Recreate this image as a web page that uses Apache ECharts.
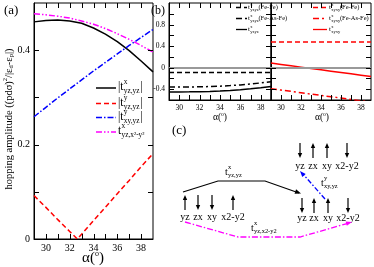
<!DOCTYPE html>
<html><head><meta charset="utf-8">
<script src="https://cdn.jsdelivr.net/npm/echarts@6/dist/echarts.min.js"></script>
<style>html,body{margin:0;padding:0;background:#fff}#c{width:374px;height:267px}</style>
</head><body><div id="c"></div>
<script>
// ---- data ----
const alpha = [29,30,31,32,33,34,35,36,37,38,39];
const aTxYzYz = [0.460,0.463,0.464,0.462,0.457,0.447,0.434,0.418,0.399,0.377,0.354];
const aRedAlpha = [29,30,31,32,32.64,33,34,35,36,37,38,39];
const aTyYzYz = [0.092,0.067,0.041,0.016,0,0.010,0.039,0.067,0.096,0.124,0.153,0.181];
const aTyXyYz = [0.259,0.279,0.299,0.318,0.337,0.356,0.374,0.392,0.410,0.427,0.444];
const aTxYzX2 = [0.477,0.475,0.472,0.468,0.462,0.455,0.446,0.435,0.423,0.410,0.396];
const bYzFeFe = [-0.09,-0.09,-0.09,-0.09,-0.09,-0.09,-0.09,-0.09,-0.09,-0.09,-0.09];
const bYzFeAsFe = [-0.36,-0.36,-0.358,-0.355,-0.35,-0.343,-0.333,-0.32,-0.303,-0.283,-0.26];
const bYzTot = [-0.45,-0.45,-0.448,-0.445,-0.44,-0.433,-0.423,-0.41,-0.393,-0.373,-0.35];
const bXyFeFe = [0.475,0.475,0.475,0.475,0.475,0.475,0.475,0.475,0.475,0.475,0.475];
const bXyFeAsFe = [-0.39,-0.415,-0.44,-0.465,-0.49,-0.515,-0.54,-0.565,-0.59,-0.615,-0.64];
const bXyTot = [0.085,0.06,0.035,0.01,-0.015,-0.04,-0.065,-0.09,-0.115,-0.14,-0.165];
const xTickVals = [30,31,32,33,34,35,36,37,38];
const xTicksLabeled = [30,32,34,36,38];
const aYTickVals = [0.1,0.2,0.3,0.4];
const aYLabeled = [0,0.2,0.4];
const bYTickVals = [-0.4,-0.2,0,0.2,0.4,0.6,0.8,1.0];
const bYLabeled = [-0.4,0,0.4,0.8];

const FF = '"Liberation Serif","DejaVu Serif",serif';
const cv = document.createElement('canvas').getContext('2d');
function mw(s, fs){cv.font = fs+'px "Liberation Serif"'; return cv.measureText(s).width;}
function near(v, arr){return arr.some(a=>Math.abs(a-v)<1e-6);}
function pair(xs, ys){return xs.map((x,i)=>[x,ys[i]]);}

const frame = {show:true, borderColor:'#000', borderWidth:1, backgroundColor:'transparent'};
const grids = [
  Object.assign({left:34, top:3, width:119, height:236}, frame),
  Object.assign({left:169, top:3, width:102, height:97}, frame),
  Object.assign({left:271, top:3, width:102, height:97}, frame)
];
const xAxes = [], yAxes = [];
function addAxes(gi, fs, ymin, ymax, yint, ylab, showY){
  const line = () => ({show:true, onZero:false, lineStyle:{color:'#000', width:1}});
  xAxes.push({type:'value', gridIndex:gi, min:29, max:39, interval:1, position:'bottom',
    axisLine:line(), axisTick:{show:false}, splitLine:{show:false},
    axisLabel:{margin:4, fontFamily:FF, fontSize:fs, color:'#000', formatter:v=>near(v,xTicksLabeled)?String(v):''}});
  yAxes.push({type:'value', gridIndex:gi, min:ymin, max:ymax, interval:yint, position:'left',
    axisLine:line(), axisTick:{show:false}, splitLine:{show:false},
    axisLabel:{show:showY, margin:4, fontFamily:FF, fontSize:fs, color:'#000',
      formatter:v=>near(v,ylab)?String(Math.round(v*10)/10):''}});
}
addAxes(0, 10, 0, 0.5, 0.1, aYLabeled, true);
addAxes(1, 7.5, -0.6, 1.2, 0.2, bYLabeled, true);
addAxes(2, 7.5, -0.6, 1.2, 0.2, bYLabeled, false);

function ser(gi, xs, ys, color, dash, w){
  return {type:'line', xAxisIndex:gi, yAxisIndex:gi, data:pair(xs,ys), symbol:'none',
    smooth:false, clip:true, lineStyle:{color:color, width:w||1.5, type:dash||'solid'}, z:3};
}
const zeroLine = {silent:true, symbol:['none','none'], label:{show:false},
  lineStyle:{color:'#999', width:2, type:'solid'}, data:[{yAxis:0}]};
const series = [
  ser(0, alpha, aTxYzYz, '#000', 'solid', 1.5),
  ser(0, aRedAlpha, aTyYzYz, '#ff0000', [5,3], 1.5),
  ser(0, alpha, aTyXyYz, '#0000ff', [6,2,1.5,2], 1.5),
  ser(0, alpha, aTxYzX2, '#ff00ff', [6,2,1.5,2,1.5,2], 1.5),
  Object.assign(ser(1, alpha, bYzFeFe, '#000', [5,3], 1.5), {markLine:zeroLine}),
  ser(1, alpha, bYzFeAsFe, '#000', [6,3,2,3], 1.5),
  ser(1, alpha, bYzTot, '#000', 'solid', 1.5),
  Object.assign(ser(2, alpha, bXyFeFe, '#ff0000', [5,3], 1.5), {markLine:zeroLine}),
  ser(2, alpha, bXyFeAsFe, '#ff0000', [6,3,2,3], 1.5),
  ser(2, alpha, bXyTot, '#ff0000', 'solid', 1.5)
];

// ---- graphic helpers ----
const G = [];
function txt(x, y, s, fs, opt){
  opt = opt||{};
  G.push({type:'text', x:x, y:y, rotation:opt.rot||0, z:10,
    style:{text:s, fontSize:fs, fontFamily:FF, fill:opt.color||'#000',
      align:opt.align||'left', textAlign:opt.align||'left',
      verticalAlign:'middle', textVerticalAlign:'middle', rich:opt.rich}});
}
function sym(x, y, base, sup, sub, tail, fs){
  txt(x, y, base, fs);
  const w = mw(base, fs);
  const ss = fs*0.64;
  if(sup) txt(x+w+0.3, y-fs*0.42, sup, ss);
  if(sub) txt(x+w+0.3, y+fs*0.38, sub, ss);
  const w2 = Math.max(sup?mw(sup,ss):0, sub?mw(sub,ss):0);
  if(tail) txt(x+w+w2+1, y, tail, fs);
  return x+w+w2+1+(tail?mw(tail,fs):0);
}
function seg(x1,y1,x2,y2,color,dash,w){
  G.push({type:'line', z:10, shape:{x1,y1,x2,y2}, style:{stroke:color, lineWidth:w||1.5, lineDash:dash||null}});
}
function poly(points,color,dash,w){
  G.push({type:'polyline', z:10, shape:{points}, style:{stroke:color, fill:null, lineWidth:w||1.2, lineDash:dash||null}});
}
function head(x1,y1,x2,y2,color,L,W){
  L=L||5; W=W||2.2;
  const dx=x2-x1, dy=y2-y1, d=Math.hypot(dx,dy), ux=dx/d, uy=dy/d;
  const bx=x2-ux*L, by=y2-uy*L;
  G.push({type:'polygon', z:11, shape:{points:[[x2,y2],[bx-uy*W,by+ux*W],[bx+uy*W,by-ux*W]]}, style:{fill:color}});
}
function spin(x, y, up){
  if(up){ seg(x, y+15, x, y+2, '#000', null, 1.2); head(x, y+15, x, y, '#000', 5, 2.2); }
  else { seg(x, y, x, y+13, '#000', null, 1.2); head(x, y, x, y+15, '#000', 5, 2.2); }
}

// panel labels
txt(4, 11, '(a)', 13);
txt(151, 11, '(b)', 12);
txt(172, 131, '(c)', 13);

// axis titles
txt(9, 119, 'hopping amplitude ((pdσ){sp|2}/|ε{sb|d}-ε{sb|p}|)', 10.5, {rot:Math.PI/2, align:'center',
  rich:{sp:{fontSize:6.5, fontFamily:FF, padding:[0,0,7,0]}, sb:{fontSize:6.5, fontFamily:FF, padding:[5,0,0,0]}}});
txt(93, 258, 'α({o|o})', 15, {align:'center', rich:{o:{fontSize:8, fontFamily:FF, padding:[0,0,8,0]}}});
txt(220, 117, 'α({o|o})', 9.5, {align:'center', rich:{o:{fontSize:5.5, fontFamily:FF, padding:[0,0,5,0]}}});
txt(322, 117, 'α({o|o})', 9.5, {align:'center', rich:{o:{fontSize:5.5, fontFamily:FF, padding:[0,0,5,0]}}});

// legend (a)
const la = [
  {y:88, c:'#000', d:null, b:'|t', sp:'x', sb:'yz,yz', t:'|'},
  {y:103.5, c:'#ff0000', d:[5,3], b:'|t', sp:'y', sb:'yz,yz', t:'|'},
  {y:117.5, c:'#0000ff', d:[6,2,1.5,2], b:'|t', sp:'y', sb:'xy,yz', t:'|'},
  {y:132, c:'#ff00ff', d:[6,2,1.5,2,1.5,2], b:'t', sp:'x', sb:'yz,x²-y²', t:''}
];
la.forEach(e=>{ seg(96, e.y, 116, e.y, e.c, e.d, 1.5); sym(118, e.y-1, e.b, e.sp, e.sb, e.t, 11.5); });

// legend (b)
const lb = [
  {y:7.5, d:[5,3], s:'(Fe-Fe)'},
  {y:18.5, d:[6,3,2,3], s:'(Fe-As-Fe)'},
  {y:29.5, d:null, s:''}
];
lb.forEach(e=>{
  seg(236, e.y, 247, e.y, '#000', e.d, 1.3);
  const x2 = sym(248, e.y, 't', 'x', 'yzyz', '', 7);
  if(e.s) txt(x2-1, e.y, e.s, 6.5);
  seg(313, e.y, 327, e.y, '#ff0000', e.d, 1.3);
  const x3 = sym(329, e.y, 't', 'x', 'xyxy', '', 7);
  if(e.s) txt(x3-1, e.y, e.s, 6.5);
});

// panel (c)
const orb = ['yz','zx','xy','x2-y2'];
function group(xs, yArrow, yLab, ups){
  xs.forEach((x,i)=>{ spin(x, yArrow, ups[i]); txt(x, yLab, orb[i], 10, {align:'center'}); });
}
group([300,313,327,347], 143, 166, [false,true,true,false]);
group([185,198,212,233], 195, 217, [true,false,false,true]);
group([302,314,328,348], 198, 218, [false,true,true,false]);

poly([[183,192],[218,181],[265,181],[299,193]], '#000', null, 1.2);
head(265,181,301,193.5,'#000',6,2.3);
sym(225, 172, 't', 'x', 'yz,yz', '', 10);

poly([[325,199],[303,174]], '#0000ff', [5,2,1.5,2], 1.3);
head(325,199,300,171,'#0000ff',6,2.3);
sym(321, 183, 't', 'y', 'xy,yz', '', 10);

poly([[185,222],[238,237],[300,237],[349,223]], '#ff00ff', [6,2,1.5,2], 1.3);
head(300,237,352,222,'#ff00ff',6,2.3);
sym(251, 228, 't', 'x', 'yz,x2-y2', '', 10);

const chart = echarts.init(document.getElementById('c'), null, {renderer:'canvas'});
chart.setOption({
  animation:false, backgroundColor:'#fff',
  textStyle:{fontFamily:FF},
  grid:grids, xAxis:xAxes, yAxis:yAxes, series:series, graphic:G
});

// inward ticks on all four sides, placed through the axes' scales
const T = [];
function tick(x1,y1,x2,y2){ T.push({type:'line', z:12, shape:{x1,y1,x2,y2}, style:{stroke:'#000', lineWidth:1}}); }
const yTicksPer = [aYTickVals, bYTickVals, bYTickVals];
const yRange = [[0,0.5],[-0.6,1.2],[-0.6,1.2]];
[0,1,2].forEach(gi=>{
  const L = 5;
  const yb = chart.convertToPixel({yAxisIndex:gi}, yRange[gi][0]);
  const yt = chart.convertToPixel({yAxisIndex:gi}, yRange[gi][1]);
  const xl = chart.convertToPixel({xAxisIndex:gi}, 29);
  const xr = chart.convertToPixel({xAxisIndex:gi}, 39);
  xTickVals.forEach(v=>{
    const px = Math.round(chart.convertToPixel({xAxisIndex:gi}, v))+0.5;
    tick(px, yb, px, yb-L); tick(px, yt, px, yt+L);
  });
  yTicksPer[gi].forEach(v=>{
    const py = Math.round(chart.convertToPixel({yAxisIndex:gi}, v))+0.5;
    tick(xl, py, xl+L, py); tick(xr, py, xr-L, py);
  });
});
chart.setOption({graphic:G.concat(T)});
</script></body></html>
